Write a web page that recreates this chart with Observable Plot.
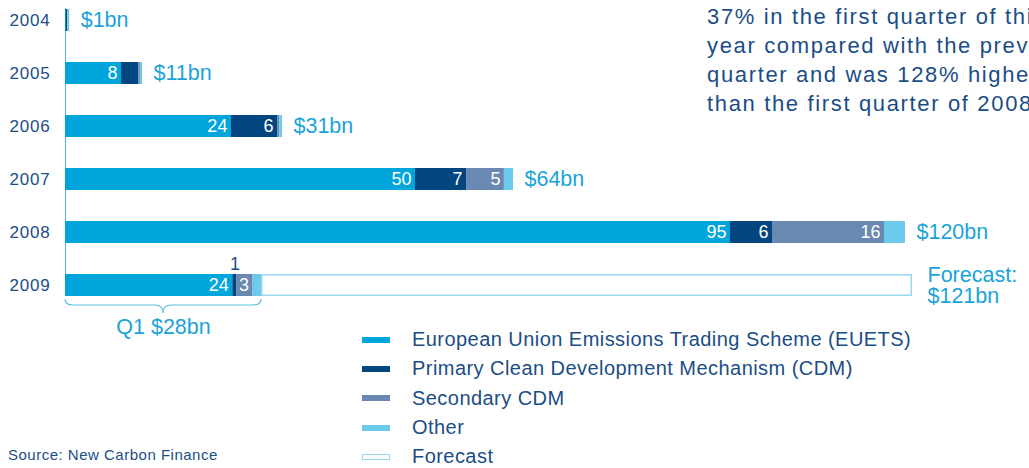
<!DOCTYPE html>
<html><head><meta charset="utf-8">
<script src="https://cdn.jsdelivr.net/npm/d3@7"></script>
<script src="https://cdn.jsdelivr.net/npm/@observablehq/plot@0.6"></script>
<style>
html,body{margin:0;padding:0;background:#fff;overflow:hidden;}
#wrap{position:relative;width:1029px;height:468px;overflow:hidden;font-family:"Liberation Sans",Arial,sans-serif;}
#chart{position:absolute;left:0;top:0;}
#note{position:absolute;left:707px;top:2px;font-size:22px;line-height:29px;letter-spacing:1.65px;color:#1b4d86;white-space:nowrap;}
#legend{position:absolute;left:362px;top:325px;}
.row{display:flex;align-items:center;height:29.3px;}
.sw{width:28px;height:6px;margin-right:22px;box-sizing:border-box;}
.lt{font-size:20px;letter-spacing:0.45px;color:#1b4d86;}
#source{position:absolute;left:8px;top:446px;font-size:15px;letter-spacing:0.5px;color:#1b4d86;}
#chart svg text{font-family:"Liberation Sans",Arial,sans-serif;}
g[aria-label="y-axis tick label"] text{letter-spacing:0.8px;}
g[aria-label="value labels"] text, g[aria-label="q1 label"] text, g[aria-label="forecast label"] text{letter-spacing:0.9px;}
</style>
</head><body>
<div id="wrap">
  <div id="chart"></div>
  <div id="note"></div>
  <div id="legend"></div>
  <div id="source"></div>
</div>
<script>
// ---- data ----
const years = ["2004", "2005", "2006", "2007", "2008", "2009"];
const seriesNames = [
  "European Union Emissions Trading Scheme (EUETS)",
  "Primary Clean Development Mechanism (CDM)",
  "Secondary CDM",
  "Other"
];
const seriesColors = ["#00a5db", "#03457f", "#6a89b2", "#6ccbec"];
const euets        = [0.1, 8,   23.7, 50,  95, 23.9];
const primaryCDM   = [0.2, 2.5, 6.6,  7.3, 6,  0.6];
const secondaryCDM = [0.05, 0.2, 0.3, 5.4, 16, 2.3];
const other        = [0.25, 0.3, 0.4, 1.3, 3,  1.2];
const euetsLabels     = [null, "8", "24", "50", "95", "24"];
const primaryLabels   = [null, null, "6", "7", "6", "1"];
const secondaryLabels = [null, null, null, "5", "16", "3"];
const otherLabels     = [null, null, null, null, null, null];
const totals = [0.6, 11, 31, 64, 120, 28];
const totalLabels = ["$1bn", "$11bn", "$31bn", "$64bn", "$120bn", null];
const quarterLabels = [null, null, null, null, null, "Q1 $28bn"];
const forecastTotals = [null, null, null, null, null, 121];
const forecastLabels = [null, null, null, null, null, "Forecast:\n$121bn"];
const forecastName = "Forecast";
const noteLines = [
  "37% in the first quarter of this",
  "year compared with the previous",
  "quarter and was 128% higher",
  "than the first quarter of 2008."
];
const sourceText = "Source: New Carbon Finance";

// ---- build tables ----
const valueSets = [euets, primaryCDM, secondaryCDM, other];
const labelSets = [euetsLabels, primaryLabels, secondaryLabels, otherLabels];
const segments = [];
years.forEach((y, i) => {
  seriesNames.forEach((s, j) => {
    segments.push({year: y, type: s, value: valueSets[j][i], label: labelSets[j][i]});
  });
});
const rows = years.map((y, i) => ({
  year: y, total: totals[i], totalLabel: totalLabels[i], quarterLabel: quarterLabels[i],
  forecast: forecastTotals[i], forecastLabel: forecastLabels[i]
}));
const forecastRows = rows.filter(d => d.forecast != null);
const quarterRows = rows.filter(d => d.quarterLabel != null);

const textBlue = "#1b4d86";
const labelBlue = "#1ba3d9";

// brace drawn from scales under each quarter total
function brace(index, scales, values, dimensions, context) {
  const g = d3.create("svg:g").attr("aria-label", "brace");
  const bw = typeof scales.y.bandwidth === "function" ? scales.y.bandwidth() : 22;
  for (const d of quarterRows) {
    const x0 = scales.x(0), x1 = scales.x(d.total);
    const yb = scales.y(d.year) + bw;
    const t = yb + 3, h = yb + 9, tip = yb + 17, r = 8, m = (x0 + x1) / 2;
    const p = `M${x0},${t} Q${x0},${h} ${x0 + r},${h} L${m - r},${h} Q${m},${h} ${m},${tip} Q${m},${h} ${m + r},${h} L${x1 - r},${h} Q${x1},${h} ${x1},${t}`;
    g.append("path").attr("d", p).attr("fill", "none").attr("stroke", "#5bbfe6").attr("stroke-width", 1.2);
  }
  return g.node();
}

const plot = Plot.plot({
  width: 1029,
  height: 340,
  marginLeft: 65,
  marginRight: 5,
  marginTop: 8,
  marginBottom: 44,
  style: {fontSize: "17px", color: textBlue, background: "transparent"},
  x: {domain: [0, 137], axis: null},
  y: {domain: years, paddingInner: 0.585, paddingOuter: 0, label: null, tickSize: 0, tickPadding: 15},
  color: {domain: seriesNames, range: seriesColors},
  marks: [
    Plot.ruleX([0], {stroke: "#4db6e3", strokeWidth: 1}),
    Plot.barX(forecastRows, {x1: "total", x2: "forecast", y: "year", fill: "white", stroke: "#9ad7f0", strokeWidth: 1.5, inset: 0.75}),
    Plot.barX(segments, {x: "value", y: "year", fill: "type"}),
    Plot.text(segments, Plot.stackX2({x: "value", y: "year", z: "type",
      text: d => (d.label && d.value >= 2 ? d.label : null),
      textAnchor: "end", dx: -4, fill: "white", fontSize: 18})),
    Plot.text(segments, Plot.stackX({x: "value", y: "year", z: "type",
      text: d => (d.label && d.value < 2 ? d.label : null),
      dy: -21, fill: textBlue, fontSize: 18})),
    Plot.text(rows, {x: "total", y: "year", text: "totalLabel", textAnchor: "start", dx: 11,
      fill: labelBlue, fontSize: 21.5, ariaLabel: "value labels"}),
    Plot.text(forecastRows, {x: "forecast", y: "year", text: "forecastLabel", textAnchor: "start", dx: 15,
      fill: labelBlue, fontSize: 21.5, lineHeight: 1.02, ariaLabel: "forecast label"}),
    Plot.text(quarterRows, {x: d => d.total / 2, y: "year", text: "quarterLabel", dy: 42,
      fill: labelBlue, fontSize: 21.5, ariaLabel: "q1 label"}),
    brace
  ]
});
document.getElementById("chart").appendChild(plot);

// annotation text
const note = document.getElementById("note");
noteLines.forEach(l => { const div = document.createElement("div"); div.textContent = l; note.appendChild(div); });

// legend
const legend = document.getElementById("legend");
seriesNames.forEach((s, j) => {
  const row = document.createElement("div"); row.className = "row";
  const sw = document.createElement("div"); sw.className = "sw"; sw.style.background = seriesColors[j];
  const lt = document.createElement("div"); lt.className = "lt"; lt.textContent = s;
  row.appendChild(sw); row.appendChild(lt); legend.appendChild(row);
});
{
  const row = document.createElement("div"); row.className = "row";
  const sw = document.createElement("div"); sw.className = "sw"; sw.style.background = "#fff"; sw.style.border = "1.5px solid #9ad7f0";
  const lt = document.createElement("div"); lt.className = "lt"; lt.textContent = forecastName;
  row.appendChild(sw); row.appendChild(lt); legend.appendChild(row);
}
document.getElementById("source").textContent = sourceText;
</script>
</body></html>
